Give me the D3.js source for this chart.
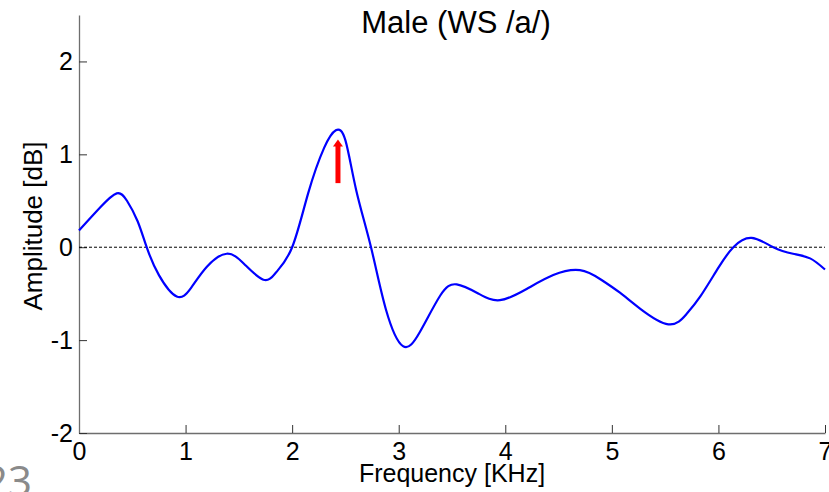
<!DOCTYPE html>
<html>
<head>
<meta charset="utf-8">
<script src="https://cdnjs.cloudflare.com/ajax/libs/d3/7.8.5/d3.min.js"></script>
<style>
    body { margin: 0; background: #fff; }
    svg { display: block; }
    text { font-family: "Liberation Sans", Arial, sans-serif; }
</style>
</head>
<body>
<div id="chart"></div>
<script>
// spectrum (frequency in KHz, amplitude in dB)
const freqs = [0.00, 0.20, 0.354, 0.45, 0.55, 0.635, 0.75, 0.917, 1.05, 1.20, 1.386, 1.55, 1.73, 1.85,
    2.00, 2.15, 2.30, 2.41, 2.50, 2.60, 2.74, 2.88, 3.04, 3.20, 3.39, 3.544, 3.75, 3.95, 4.20, 4.45,
    4.70, 4.90, 5.076, 5.264, 5.53, 5.70, 5.83, 6.00, 6.14, 6.31, 6.515, 6.70, 6.86, 7.00];
const amps = [0.18, 0.43, 0.58, 0.50, 0.28, 0.00, -0.30, -0.53, -0.44, -0.21, -0.07, -0.18, -0.35, -0.27,
    0.00, 0.58, 1.07, 1.26, 1.15, 0.62, 0.00, -0.67, -1.065, -0.91, -0.52, -0.40, -0.50, -0.57, -0.45, -0.30,
    -0.247, -0.35, -0.49, -0.66, -0.83, -0.72, -0.53, -0.22, 0.00, 0.10, 0.00, -0.07, -0.12, -0.24];

const xTicks = [0, 1, 2, 3, 4, 5, 6, 7];
const yTicks = [-2, -1, 0, 1, 2];

// red arrow marking the peak
const arrowFreq = 2.43;
const arrowFrom = 0.69;
const arrowTo = 1.16;

const titleText = "Male (WS /a/)";
const xLabel = "Frequency [KHz]";
const yLabel = "Amplitude [dB]";
const slideNumber = "23";

const width = 829, height = 492;
const margin = { top: 15, right: 4, bottom: 59, left: 79 };

const svg = d3.select("#chart")
    .append("svg")
    .attr("width", width)
    .attr("height", height);

const xScale = d3.scaleLinear()
    .domain([0, 7])
    .range([margin.left, width - margin.right]);

const yScale = d3.scaleLinear()
    .domain([-2, 2.5])
    .range([height - margin.bottom, margin.top]);

// axes, ticks pointing inward
const xAxis = svg.append("g")
    .attr("transform", "translate(0," + yScale(-2) + ")")
    .call(d3.axisBottom(xScale).tickValues(xTicks).tickFormat(function (d) { return String(d); })
        .tickSizeInner(-8).tickSizeOuter(0).tickPadding(9));

const yAxis = svg.append("g")
    .attr("transform", "translate(" + xScale(0) + ",0)")
    .call(d3.axisLeft(yScale).tickValues(yTicks).tickFormat(function (d) { return String(d); })
        .tickSizeInner(-8).tickSizeOuter(0).tickPadding(6));

[xAxis, yAxis].forEach(function (g) {
    g.select(".domain").attr("stroke", "#6e6e6e").attr("stroke-width", 1.3);
    g.selectAll(".tick line").attr("stroke", "#333").attr("stroke-width", 1);
    g.selectAll(".tick text")
        .attr("fill", "#000")
        .style("font-size", "25px")
        .style("font-family", "'Liberation Sans', Arial, sans-serif");
});

// dashed zero line
svg.append("line")
    .attr("x1", xScale(0))
    .attr("x2", xScale(7))
    .attr("y1", yScale(0))
    .attr("y2", yScale(0))
    .attr("stroke", "#000")
    .attr("stroke-width", 1)
    .attr("stroke-dasharray", "3,2");

// spectrum curve
const points = freqs.map(function (f, i) { return [f, amps[i]]; });

const line = d3.line()
    .x(function (d) { return xScale(d[0]); })
    .y(function (d) { return yScale(d[1]); })
    .curve(d3.curveNatural);

svg.append("path")
    .datum(points)
    .attr("d", line)
    .attr("fill", "none")
    .attr("stroke", "#0000ff")
    .attr("stroke-width", 2.2);

// arrow
const ax = xScale(arrowFreq);
const headLen = 7;
svg.append("line")
    .attr("x1", ax)
    .attr("x2", ax)
    .attr("y1", yScale(arrowFrom))
    .attr("y2", yScale(arrowTo) + headLen - 1)
    .attr("stroke", "#ff0000")
    .attr("stroke-width", 5);
svg.append("path")
    .attr("d", "M" + (ax - 5) + "," + (yScale(arrowTo) + headLen) +
        "L" + ax + "," + yScale(arrowTo) +
        "L" + (ax + 5) + "," + (yScale(arrowTo) + headLen) + "Z")
    .attr("fill", "#ff0000");

// labels
svg.append("text")
    .attr("x", 456)
    .attr("y", 33)
    .attr("text-anchor", "middle")
    .style("font-size", "31px")
    .text(titleText);

svg.append("text")
    .attr("x", (xScale(0) + xScale(7)) / 2)
    .attr("y", 482)
    .attr("text-anchor", "middle")
    .style("font-size", "25px")
    .text(xLabel);

svg.append("text")
    .attr("transform", "translate(42," + 226 + ") rotate(-90)")
    .attr("text-anchor", "middle")
    .style("font-size", "26px")
    .text(yLabel);

// slide number, cut by the bottom edge
svg.append("text")
    .attr("x", 32)
    .attr("y", 496)
    .attr("text-anchor", "end")
    .attr("fill", "#8a8a8a")
    .style("font-family", "'Open Sans', sans-serif")
    .style("font-size", "42px")
    .text(slideNumber);
</script>
</body>
</html>
